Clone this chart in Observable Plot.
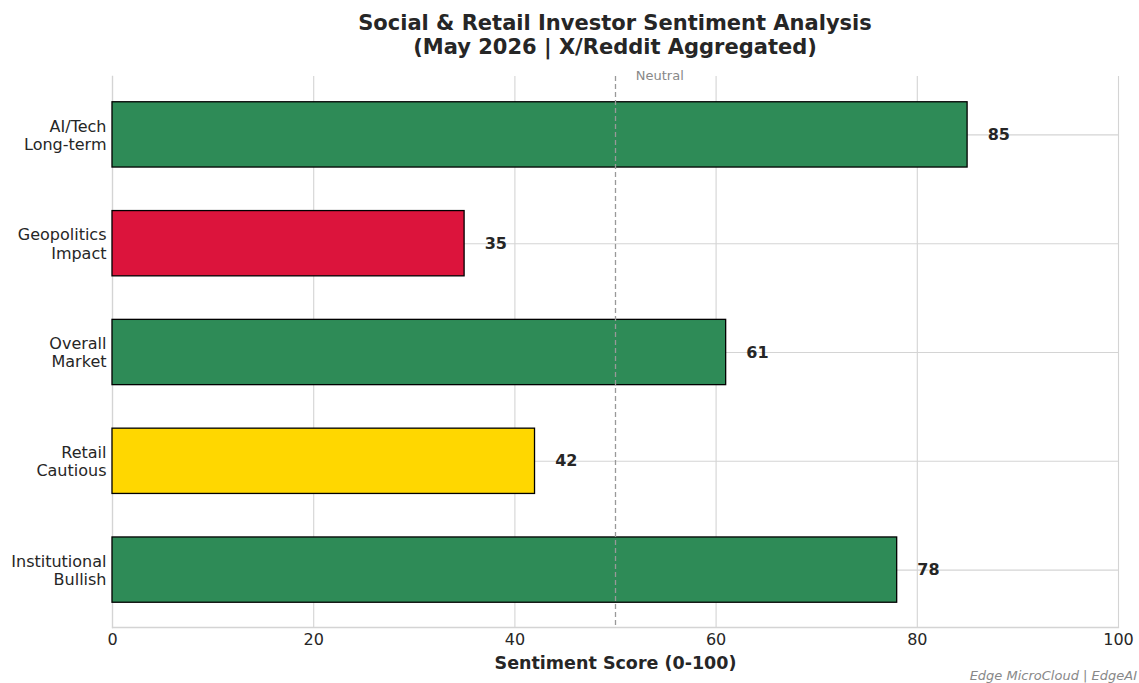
<!DOCTYPE html>
<html>
<head>
<meta charset="utf-8">
<script src="https://cdn.jsdelivr.net/npm/d3@7"></script>
<script src="https://cdn.jsdelivr.net/npm/@observablehq/plot@0.6"></script>
<style>
  html, body { margin: 0; padding: 0; background: #fff; overflow: hidden; width: 1139px; height: 683px; }
  body { font-family: "DejaVu Sans", sans-serif; color: #262626; position: relative; }
  #title { position: absolute; left: 112px; width: 1006px; top: 11px; text-align: center; font-weight: bold; font-size: 21px; line-height: 24px; color: #262626; }
  #chart { position: absolute; left: 0; top: 62px; }
  #caption { position: absolute; right: 2px; top: 668px; font-style: italic; font-size: 13px; color: #888; white-space: nowrap; }
</style>
</head>
<body>
<div id="title">Social &amp; Retail Investor Sentiment Analysis<br>(May 2026 | X/Reddit Aggregated)</div>
<div id="chart"></div>
<div id="caption">Edge MicroCloud | EdgeAI</div>
<script>
const categories = ["AI/Tech\nLong-term", "Geopolitics\nImpact", "Overall\nMarket", "Retail\nCautious", "Institutional\nBullish"];
const scores = [85, 35, 61, 42, 78];
const barColors = ["#2E8B57", "#DC143C", "#2E8B57", "#FFD700", "#2E8B57"];
const xTicks = [0, 20, 40, 60, 80, 100];
const neutralValue = 50;
const xLabel = "Sentiment Score (0-100)";

const data = categories.map((c, i) => ({cat: c, score: scores[i], color: barColors[i]}));
const gridColor = "#d4d4d4";

const plot = Plot.plot({
  width: 1139,
  height: 621,
  marginLeft: 112,
  marginRight: 21,
  marginTop: 14,
  marginBottom: 56,
  style: {fontFamily: "DejaVu Sans, sans-serif", fontSize: "15px", color: "#262626", background: "#fff"},
  x: {domain: [0, 100]},
  y: {domain: categories, range: [18, 562], paddingInner: 0.4, paddingOuter: 0.2, round: false},
  color: {type: "identity"},
  marks: [
    Plot.ruleX(xTicks, {stroke: gridColor, strokeWidth: 1.1}),
    Plot.gridY({stroke: gridColor, strokeOpacity: 1, strokeWidth: 1.1}),
    Plot.frame({anchor: "bottom", stroke: gridColor, strokeWidth: 1.3}),
    Plot.frame({anchor: "left", stroke: gridColor, strokeWidth: 1.3}),
    Plot.barX(data, {x: "score", y: "cat", fill: "color", stroke: "#000", strokeWidth: 1.3}),
    Plot.ruleX([neutralValue], {stroke: "#999", strokeWidth: 1.3, strokeDasharray: "5,3"}),
    Plot.text([neutralValue], {x: d => d + 4.4, frameAnchor: "top", text: () => "Neutral", fill: "#888", fontSize: 13, lineAnchor: "middle", dy: -1}),
    Plot.text(data, {x: d => d.score + 2, y: "cat", text: d => String(d.score), textAnchor: "start", fontWeight: "bold", fontSize: 16, fill: "#262626"}),
    Plot.axisX({ticks: xTicks, tickSize: 0, tickPadding: 6, label: null, fontSize: 16, fill: "#262626"}),
    Plot.axisY({tickSize: 0, tickPadding: 6, label: null, fontSize: 16, fill: "#262626", lineHeight: 1.13}),
    Plot.text([xLabel], {frameAnchor: "bottom", dy: 36, fontWeight: "bold", fontSize: 17.5, fill: "#262626", lineAnchor: "middle"})
  ]
});
document.getElementById("chart").appendChild(plot);
</script>
</body>
</html>
